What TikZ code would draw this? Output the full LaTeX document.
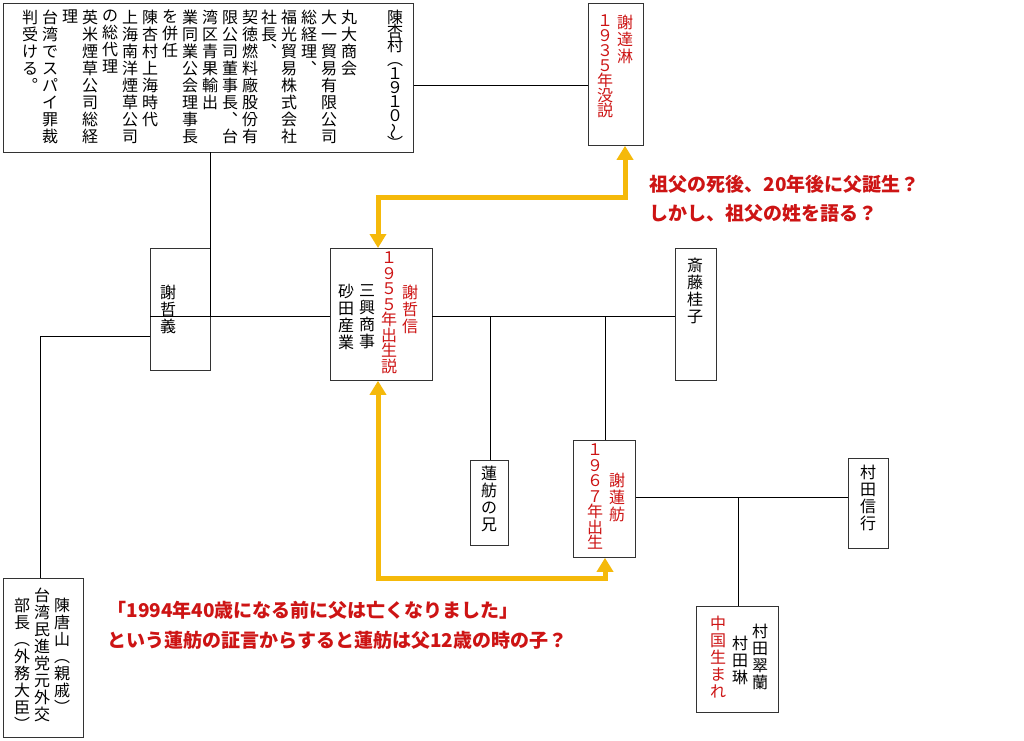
\documentclass[tikz,border=0pt]{standalone}
\usepackage{fontspec}
\setmainfont{Noto Sans CJK JP}
\usetikzlibrary{arrows.meta}
\ExplSyntaxOn
\NewDocumentCommand\vcol{O{17pt}m}{\vbox{\baselineskip=#1\lineskiplimit=-20pt\lineskip=0pt
  \tl_map_inline:nn{#2}{\hbox_to_wd:nn{16pt}{\hss##1\hss}}}}
\ExplSyntaxOff
\newcommand\rw{\rotatebox[origin=c]{90}{～}}
\definecolor{rd}{RGB}{205,20,20}
\definecolor{yl}{RGB}{245,185,10}
\begin{document}
\begin{tikzpicture}[x=1pt,y=-1pt,
  box/.style={draw=black!80,line width=0.8pt,anchor=north west,inner sep=0},
  vt/.style={anchor=north,inner sep=0,font=\fontsize{16}{17}\selectfont},
  rv/.style={vt,text=rd},
  ln/.style={line width=0.8pt},
  ya/.style={yl,line width=5pt,{Triangle[length=14pt,width=16pt]}-{Triangle[length=14pt,width=16pt]}},
  ann/.style={anchor=west,text=rd,font=\fontsize{19}{22}\selectfont\bfseries}]
\useasboundingbox[fill=white] (0,0) rectangle (1024,740);
% boxes
\node[box,minimum width=410,minimum height=149] (A) at (3,3) {};
\node[box,minimum width=55,minimum height=142] (B) at (588,3) {};
\node[box,minimum width=60,minimum height=122] (C) at (150,248) {};
\node[box,minimum width=102,minimum height=132] (D) at (330,248) {};
\node[box,minimum width=41,minimum height=132] (E) at (675,248) {};
\node[box,minimum width=38,minimum height=85] (F) at (470,460) {};
\node[box,minimum width=62,minimum height=117] (G) at (573,440) {};
\node[box,minimum width=40,minimum height=90] (H) at (848,458) {};
\node[box,minimum width=82,minimum height=106] (I) at (696,606) {};
\node[box,minimum width=80,minimum height=159] (J) at (3,578) {};
% texts A
\node[vt] (a1) at (395,10) {\vcol[14pt]{陳杏村︵１９１０{\rw}︶}};
\node[vt] (a2) at (349,10) {\vcol{丸大商会}};
\node[vt] (a3) at (329,10) {\vcol{大一貿易有限公司}};
\node[vt] (a4) at (309,10) {\vcol{総経理︑}};
\node[vt] (a5) at (289,10) {\vcol{福光貿易株式会社}};
\node[vt] (a6) at (269,10) {\vcol{社長︑}};
\node[vt] (a7) at (250,10) {\vcol{契徳燃料廠股份有}};
\node[vt] (a8) at (230,10) {\vcol{限公司董事長︑台}};
\node[vt] (a9) at (210,10) {\vcol{湾区青果輸出}};
\node[vt] (a10) at (190,10) {\vcol{業同業公会理事長}};
\node[vt] (a11) at (170,10) {\vcol{を併任}};
\node[vt] (a12) at (150,10) {\vcol{陳杏村上海時代}};
\node[vt] (a13) at (130,10) {\vcol{上海南洋煙草公司}};
\node[vt] (a14) at (110,10) {\vcol{の総代理}};
\node[vt] (a15) at (90,10) {\vcol{英米煙草公司総経}};
\node[vt] (a16) at (70,10) {\vcol{理}};
\node[vt] (a17) at (50,10) {\vcol{台湾でスパイ罪裁}};
\node[vt] (a18) at (30,10) {\vcol{判受ける︒}};
% B
\node[rv] (b1) at (625,15) {\vcol{謝達淋}};
\node[rv] (b2) at (605,15) {\vcol[15pt]{１９３５年没説}};
% C
\node[vt] (c1) at (168,285) {\vcol{謝哲義}};
% D
\node[rv] (d1) at (410,285) {\vcol{謝哲信}};
\node[rv] (d2) at (389,252) {\vcol[15.5pt]{１９５５年出生説}};
\node[vt] (d3) at (367,284) {\vcol{三興商事}};
\node[vt] (d4) at (346,284) {\vcol{砂田産業}};
% E
\node[vt] (e1) at (695,258) {\vcol{斎藤桂子}};
% F
\node[vt] (f1) at (489,466) {\vcol{蓮舫の兄}};
% G
\node[rv] (g1) at (617,473) {\vcol{謝蓮舫}};
\node[rv] (g2) at (595,444) {\vcol[15.5pt]{１９６７年出生}};
% H
\node[vt] (h1) at (868,465) {\vcol{村田信行}};
% I
\node[vt] (i1) at (760,624) {\vcol{村田翠蘭}};
\node[vt] (i2) at (740,636) {\vcol{村田琳}};
\node[rv] (i3) at (718,616) {\vcol{中国生まれ}};
% J
\node[vt] (j1) at (62,598) {\vcol{陳唐山︵親戚︶}};
\node[vt] (j2) at (42,588) {\vcol{台湾民進党元外交}};
\node[vt] (j3) at (22,598) {\vcol{部長︵外務大臣︶}};
% connectors
\coordinate (ac) at (210,152);
\coordinate (cm) at (210,316);
\coordinate (cl) at (150,336);
\coordinate (jc) at (40,336);
\coordinate (dr) at (432,316);
\coordinate (fx) at (490,316);
\coordinate (gx) at (605,316);
\coordinate (gh) at (738,497);
\draw[ln] (ac) -- (cm);
\draw[ln] (C.west |- cm) -- (D.west |- cm);
\draw[ln] (cl) -- (jc) -- (J.north -| jc);
\draw[ln] (A.east |- 0,85) -- (B.west |- 0,85);
\draw[ln] (dr) -- (E.west |- dr);
\draw[ln] (fx) -- (F.north -| fx);
\draw[ln] (gx) -- (G.north -| gx);
\draw[ln] (G.east |- gh) -- (H.west |- gh);
\draw[ln] (gh) -- (I.north -| gh);
% yellow arrows
\draw[ya] (D.north -| 378,0) -- (378,197) -- (625,197) -- (B.south -| 625,0);
\draw[ya] (D.south -| 378,0) -- (378,578) -- (605,578) -- (G.south -| 605,0);
% annotations
\node[ann] (t1) at (646,184) {祖父の死後、20年後に父誕生？};
\node[ann] (t2) at (646,213) {しかし、祖父の姓を語る？};
\node[ann] (t3) at (104,610) {「1994年40歳になる前に父は亡くなりました」};
\node[ann] (t4) at (104,640) {という蓮舫の証言からすると蓮舫は父12歳の時の子？};
\end{tikzpicture}
\end{document}
